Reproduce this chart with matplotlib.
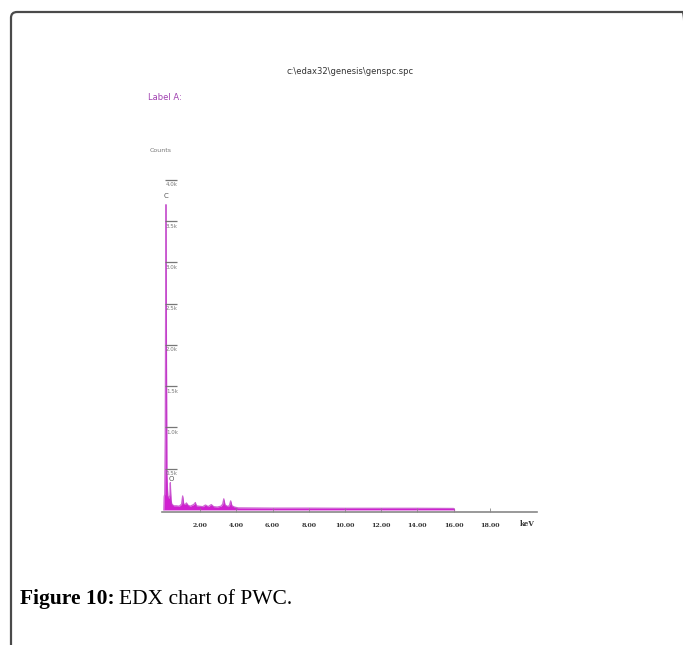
"""
EDX spectrum figure with caption, drawn with matplotlib.
"""

import matplotlib.pyplot as plt
from matplotlib.patches import FancyBboxPatch

# spectrum samples (keV, counts)
energy = [0.00, 0.02, 0.05, 0.08, 0.10, 0.12, 0.14, 0.17, 0.22, 0.28, 0.34,
          0.36, 0.38, 0.40, 0.44, 0.55, 0.70, 0.85, 0.98, 1.04, 1.10,
          1.18, 1.25, 1.32, 1.45, 1.60, 1.70, 1.74, 1.80, 1.95, 2.15, 2.30,
          2.45, 2.62, 2.75, 2.95, 3.15, 3.25, 3.31, 3.38, 3.55, 3.63, 3.69,
          3.76, 3.90, 4.10, 6.00, 8.00, 10.00, 12.00, 14.00, 16.00, 16.05]
counts = [0, 160, 190, 900, 2500, 3700, 2300, 420, 170, 140, 180,
          330, 200, 120, 70, 50, 50, 45, 70, 170, 70,
          65, 85, 60, 45, 60, 75, 90, 50, 45, 40, 60,
          40, 65, 40, 35, 45, 70, 135, 60, 40, 60, 110,
          50, 35, 25, 22, 22, 20, 20, 20, 18, 0]

x_ticks = [2, 4, 6, 8, 10, 12, 14, 16, 18]
x_labels = ["2.00", "4.00", "6.00", "8.00", "10.00", "12.00", "14.00",
            "16.00", "18.00"]
y_ticks = [500, 1000, 1500, 2000, 2500, 3000, 3500, 4000]
y_labels = ["0.5k", "1.0k", "1.5k", "2.0k", "2.5k", "3.0k", "3.5k", "4.0k"]

peak_labels = [("C", 0.12, 3800), ("O", 0.42, 370)]

W, H = 683, 645
fig = plt.figure(figsize=(W / 100, H / 100), dpi=100)
fig.patch.set_facecolor("white")

# outer frame with rounded corner, running off the right and bottom edges
frame = FancyBboxPatch((11 / W, -40 / H), 678 / W, (H - 12 + 40) / H,
                       boxstyle="round,pad=0,rounding_size=0.009",
                       transform=fig.transFigure, fill=False,
                       edgecolor="#4a4a4a", linewidth=1.6, clip_on=False)
fig.patches.append(frame)

ax = fig.add_axes([162 / W, (H - 512) / H, 375 / W, 342 / H])
ax.set_xlim(-0.1, 20.6)
ax.set_ylim(-25, 4120)

ax.fill_between(energy, counts, 0, color="#d020d0", linewidth=0)
ax.plot(energy, counts, color="#c040c8", linewidth=0.9, alpha=0.8)

for sym, e, c in peak_labels:
    ax.text(e, c, sym, fontsize=5, color="#555555", ha="center",
            va="center")

# y ticks drawn as short bars with labels underneath
for v, lab in zip(y_ticks, y_labels):
    ax.hlines(v, 0.05, 0.75, color="#777777", linewidth=0.9)
    ax.text(0.12, v - 30, lab, fontsize=4, color="#777777", ha="left",
            va="top")

for s in ["top", "right", "left"]:
    ax.spines[s].set_visible(False)
ax.spines["bottom"].set_color("#888888")
ax.spines["bottom"].set_linewidth(1.2)
ax.set_yticks([])
ax.set_xticks(x_ticks)
ax.set_xticklabels(x_labels, fontsize=4.5, fontweight="bold",
                   family="DejaVu Serif", color="#333333")
ax.tick_params(axis="x", direction="in", length=3, width=0.6,
               colors="#888888", labelcolor="#333333", pad=8)
fig.text(527 / W, 1 - 524 / H, "keV", fontsize=5, fontweight="bold",
         family="DejaVu Serif", color="#333333", ha="center", va="center")

fig.text(350 / W, 1 - 72 / H, r"c:\edax32\genesis\genspc.spc",
         fontsize=6, color="#333333", ha="center", va="center")
fig.text(148 / W, 1 - 98 / H, "Label A:", fontsize=6, color="#a040b0",
         ha="left", va="center")
fig.text(150 / W, 1 - 150 / H, "Counts", fontsize=4.5, color="#777777",
         ha="left", va="center")

# caption, bold lead-in followed by plain text on the same baseline
cap_y = 1 - 604 / H
t1 = fig.text(20 / W, cap_y, "Figure 10:", fontsize=15.5, fontweight="bold",
              family="Liberation Serif", ha="left", va="baseline")
fig.canvas.draw()
bb = t1.get_window_extent()
fig.text((bb.x1 + 4) / W, cap_y, "EDX chart of PWC.", fontsize=15.5,
         family="Liberation Serif", ha="left", va="baseline")

fig.savefig("out.png", dpi=100, facecolor="white")
